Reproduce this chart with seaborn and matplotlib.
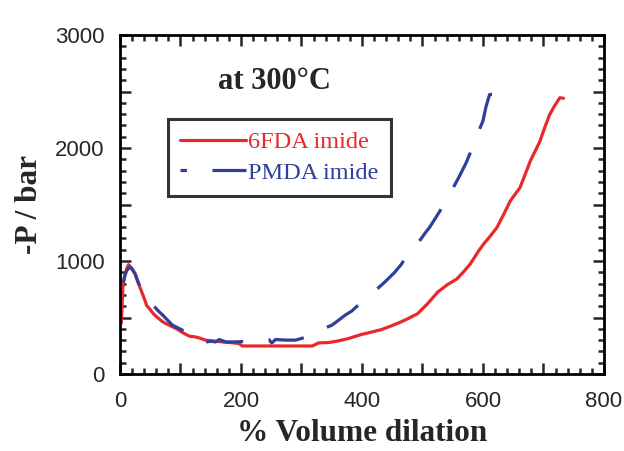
import matplotlib
matplotlib.use("Agg")
import matplotlib.pyplot as plt
from matplotlib.ticker import MultipleLocator
import seaborn as sns
import pandas as pd
import numpy as np

# ---- data ----
red_x = [2, 3, 5, 8, 11, 14, 18, 25, 30, 35, 40, 44, 50, 55, 63, 71, 82, 93, 104,
         115, 123, 131, 142, 155, 169, 183, 197, 202, 240, 280, 318, 328, 344, 360,
         377, 399, 415, 432, 448, 464, 478, 492, 508, 525, 541, 557, 568, 579, 593,
         601, 612, 623, 634, 645, 653, 661, 670, 678, 686, 694, 702, 710, 718, 727, 733]
red_y = [450, 548, 798, 870, 930, 967, 945, 886, 810, 739, 670, 607, 570, 534, 495,
         460, 430, 402, 365, 334, 330, 319, 299, 292, 284, 278, 270, 248, 248, 248,
         248, 275, 278, 292, 313, 350, 370, 393, 425, 460, 495, 534, 620, 724, 790,
         842, 905, 974, 1091, 1150, 1220, 1296, 1410, 1530, 1590, 1647, 1770, 1882,
         1970, 2058, 2180, 2293, 2370, 2445, 2440]

blue_x = [2, 3, 5, 8, 11, 16, 20, 25, 30, 35, 45, 55, 63, 71, 79, 87, 98, 110, 125,
          137, 142, 150, 158, 164, 175, 191, 210, 230, 246, 251, 257, 275, 290, 310,
          326, 340, 350, 361, 372, 383, 400, 421, 438, 454, 465, 474, 490, 503, 512,
          522, 532, 541, 551, 561, 572, 580, 586, 593, 600, 605, 611, 615]
blue_y = [600, 700, 800, 870, 915, 944, 930, 886, 812, 750, 680, 607, 560, 519, 475,
          431, 402, 370, 340, 313, 284, 290, 284, 305, 284, 284, 290, 300, 305, 275,
          305, 300, 300, 330, 381, 410, 431, 475, 520, 557, 640, 733, 815, 900, 970,
          1047, 1140, 1237, 1300, 1384, 1470, 1560, 1650, 1750, 1867, 1970, 2073,
          2150, 2240, 2366, 2474, 2474]

series_names = ["6FDA imide", "PMDA imide"]
series_colors = ["#e8282a", "#2f3f9a"]
x_major = [0, 100, 200, 300, 400, 500, 600, 700, 800]
x_labels = ["0", "", "200", "", "400", "", "600", "", "800"]
y_major = [0, 500, 1000, 1500, 2000, 2500, 3000]
y_labels = ["0", "", "1000", "", "2000", "", "3000"]

df = pd.concat([
    pd.DataFrame({"x": red_x, "y": red_y, "polymer": series_names[0]}),
    pd.DataFrame({"x": blue_x, "y": blue_y, "polymer": series_names[1]}),
], ignore_index=True)

sns.set_style("ticks")
plt.rcParams["font.family"] = ["Liberation Sans", "DejaVu Sans"]

DPI = 100
LW = 2.3
DASH = (12, 8)

fig = plt.figure(figsize=(6.24, 4.51), dpi=DPI)
ax = fig.add_axes([0.1923, 0.1707, 0.7756, 0.7517])

sns.lineplot(data=df, x="x", y="y", hue="polymer", style="polymer",
             palette=dict(zip(series_names, series_colors)),
             dashes={series_names[0]: "", series_names[1]: DASH},
             sort=False, estimator=None, linewidth=LW, ax=ax)

ax.set_xlim(0, 800)
ax.set_ylim(0, 3000)
ax.set_xticks(x_major)
ax.set_xticklabels(x_labels)
ax.set_yticks(y_major)
ax.set_yticklabels(y_labels)
ax.xaxis.set_minor_locator(MultipleLocator(20))
ax.yaxis.set_minor_locator(MultipleLocator(100))

ax.tick_params(which="both", direction="in", top=True, right=True, width=1.8,
               labelsize=16)
ax.tick_params(axis="x", which="major", pad=12)
ax.tick_params(axis="y", which="major", pad=11)
ax.tick_params(which="major", length=8)
ax.tick_params(which="minor", length=4.5)
for s in ax.spines.values():
    s.set_linewidth(2.0)
    s.set_color("black")

lab_font = dict(family="Liberation Serif", weight="bold", size=22.5)
ax.set_xlabel("% Volume dilation", labelpad=5, **lab_font)
ax.set_ylabel("-P / bar", labelpad=8, **lab_font)

ax.text(0.203, 0.862, "at 300\u00b0C", transform=ax.transAxes,
        family="Liberation Serif", weight="bold", size=22, ha="left", va="center")

# align the dash phase so the dashed line ends with a full dash
blue_line = ax.get_lines()[1]
pts = ax.transData.transform(np.column_stack([blue_x, blue_y])) * 72.0 / DPI
L = np.sum(np.hypot(np.diff(pts[:, 0]), np.diff(pts[:, 1])))
D, P = DASH[0] * LW, (DASH[0] + DASH[1]) * LW
offset = ((D - L) % P) / LW
blue_line.set_linestyle((offset, DASH))

leg = ax.legend(loc="upper left", bbox_to_anchor=(0.099, 0.752), borderaxespad=0,
                frameon=True, fancybox=False, handlelength=2.7, handletextpad=0.1,
                borderpad=0.5, labelspacing=0.35,
                prop=dict(family="Liberation Serif", size=17.5))
leg.get_frame().set_edgecolor("black")
leg.get_frame().set_linewidth(2.2)
for t, c in zip(leg.get_texts(), series_colors):
    t.set_color(c)
leg.get_lines()[1].set_linestyle((10, DASH))

fig.savefig("out.png", dpi=DPI)
